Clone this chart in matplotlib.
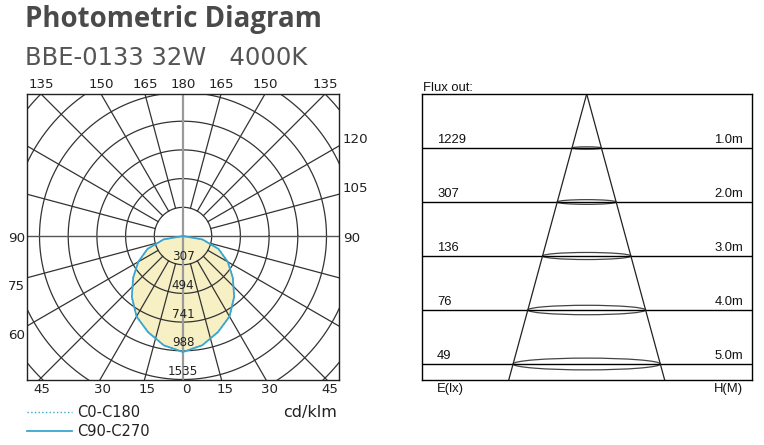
import numpy as np
import matplotlib
matplotlib.use('Agg')
import matplotlib.pyplot as plt
from matplotlib.patches import Ellipse

plt.rcParams['font.family'] = ['DejaVu Sans']

# polar curve, angle from nadir (deg) and intensity (cd/klm)
angles = [0, 10, 20, 30, 40, 50, 60, 70, 80, 90]
c0_c180 = [998, 955, 880, 800, 685, 560, 445, 325, 170, 0]
c90_c270 = [998, 955, 880, 800, 685, 560, 445, 325, 170, 0]
ring_step = 247
ring_labels = ['307', '494', '741', '988', '1535']
top_angles = [135, 150, 165, 180, 165, 150, 135]
right_angles = [120, 105, 90]
left_angles = [90, 75, 60]
bottom_angles = [45, 30, 15, 0, 15, 30, 45]

# illuminance cone
heights = [1.0, 2.0, 3.0, 4.0, 5.0]
lux = [1229, 307, 136, 76, 49]
beam_angle = 30.5

W, H = 764, 445
fig = plt.figure(figsize=(W / 100, H / 100), dpi=100)


def px_axes(x0, y0, x1, y1):
    return fig.add_axes([x0 / W, 1 - y1 / H, (x1 - x0) / W, (y1 - y0) / H])


fig.text(25 / W, 1 - 27 / H, 'Photometric Diagram', family='Open Sans',
         weight='bold', fontsize=19.9, color='#4a4a4a', va='baseline')
fig.text(25 / W, 1 - 65 / H, 'BBE-0133 32W   4000K',
         fontsize=17.5, color='#555555', va='baseline')

# ---- polar diagram ----
ax = px_axes(27, 94, 339, 380)
cx, cy = 183, 236
s = ring_step / 28.7
x_l, x_r = (27 - cx) * s, (339 - cx) * s
y_b, y_t = -(380 - cy) * s, (cy - 94) * s
ax.set_xlim(x_l, x_r)
ax.set_ylim(y_b, y_t)
ax.set_xticks([])
ax.set_yticks([])
for sp in ax.spines.values():
    sp.set_color('#222222')
    sp.set_linewidth(1)

grid_c = '#333333'
t = np.linspace(0, 2 * np.pi, 500)
for k in range(1, 10):
    ax.plot(k * ring_step * np.cos(t), k * ring_step * np.sin(t),
            color=grid_c, lw=0.9, zorder=2)
for a in range(15, 180, 15):
    if a == 90:
        continue
    r = np.radians(a)
    for sg in (-1, 1):
        ax.plot([sg * ring_step * np.sin(r), sg * 12 * ring_step * np.sin(r)],
                [-ring_step * np.cos(r), -12 * ring_step * np.cos(r)],
                color=grid_c, lw=0.9, zorder=2)
ax.axhline(0, color='#555555', lw=1, zorder=2)
ax.axvline(0, color='#9a9a9a', lw=1.6, zorder=2)


def full_curve(vals):
    th = np.radians(np.r_[-np.array(angles[::-1]), angles[1:]])
    rr = np.r_[vals[::-1], vals[1:]]
    return rr * np.sin(th), -rr * np.cos(th)


x0, y0 = full_curve(c0_c180)
x9, y9 = full_curve(c90_c270)
ax.fill(x9, y9, color='#f7f0c4', lw=0, zorder=1)
ax.plot(x0, y0, color='#3aa6d0', ls=':', lw=1, label='C0-C180', zorder=3)
ax.plot(x9, y9, color='#3aa6d0', lw=1.3, label='C90-C270', zorder=4)

for k, lab in enumerate(ring_labels, start=1):
    ax.text(0, -k * ring_step + 8 * s, lab, ha='center', va='center',
            fontsize=8.6, color='#222222', zorder=5)

lab_kw = dict(textcoords='offset pixels', annotation_clip=False,
              fontsize=9.6, color='#222222')
for i, a in enumerate(top_angles):
    sg = -1 if i < 3 else 1
    ax.annotate(str(a), xy=(sg * y_t * np.tan(np.radians(180 - a)), y_t),
                xytext=(0, 3), ha='center', va='bottom', **lab_kw)
for a in right_angles:
    r = np.radians(a)
    dy = -2 if a == 90 else 6
    ax.annotate(str(a), xy=(x_r, -x_r * np.cos(r) / np.sin(r)),
                xytext=(4, dy), ha='left', va='center', **lab_kw)
for a in left_angles:
    r = np.radians(a)
    dy = -2 if a == 90 else -9
    ax.annotate(str(a), xy=(x_l, x_l * np.cos(r) / np.sin(r)),
                xytext=(-2, dy), ha='right', va='center', **lab_kw)
for i, a in enumerate(bottom_angles):
    sg = -1 if i < 3 else 1
    ax.annotate(str(a), xy=(sg * -y_b * np.tan(np.radians(a)), y_b),
                xytext=(3, -3), ha='center', va='top', **lab_kw)

ax.annotate('cd/klm', xy=(1, 0), xycoords='axes fraction', xytext=(-2, -33),
            textcoords='offset pixels', ha='right', va='center',
            fontsize=11.5, color='#222222', annotation_clip=False)
ax.legend(loc='upper left', bbox_to_anchor=(27 / W, 1 - 405 / H),
          bbox_transform=fig.transFigure, frameon=False, fontsize=10.5,
          borderpad=0, borderaxespad=0, handlelength=3.1, handletextpad=0.35,
          labelspacing=0.3, labelcolor='#222222')

# ---- illuminance cone ----
ax2 = px_axes(422, 94, 752, 380)
m = 54.0
apex = 586.7
ax2.set_xlim((422 - apex) / m, (752 - apex) / m)
ybot = (380 - 94) / m
ax2.set_ylim(ybot, 0)
ax2.set_xticks([])
ax2.set_yticks([])
for sp in ax2.spines.values():
    sp.set_color('black')
    sp.set_linewidth(1)

half = np.tan(np.radians(beam_angle / 2))
for h in heights:
    ax2.axhline(h, color='black', lw=1)
for sg in (-1, 1):
    ax2.plot([0, sg * half * ybot], [0, ybot], color='#222222', lw=0.9)
for h in heights:
    w = 2 * half * h
    ax2.add_patch(Ellipse((0, h), w, 0.08 * w, fill=False, ec='#444444',
                          lw=0.9))

txt_kw = dict(textcoords='offset pixels', annotation_clip=False,
              fontsize=9.4, family='Liberation Sans', color='#111111')
xl, xr = (437 - apex) / m, (743 - apex) / m
for h, lx in zip(heights, lux):
    ax2.annotate(str(lx), xy=(xl, h), xytext=(0, 5), ha='left',
                 va='baseline', **txt_kw)
    ax2.annotate(f'{h:.1f}m', xy=(xr, h), xytext=(0, 5), ha='right',
                 va='baseline', **txt_kw)
ax2.annotate('Flux out:', xy=((423 - apex) / m, 0), xytext=(0, 3),
             ha='left', va='baseline', **txt_kw)
ax2.annotate('E(lx)', xy=(xl, ybot), xytext=(0, -3), ha='left', va='top',
             **txt_kw)
ax2.annotate('H(M)', xy=(xr, ybot), xytext=(0, -3), ha='right', va='top',
             **txt_kw)

fig.savefig('out.png', dpi=100)
